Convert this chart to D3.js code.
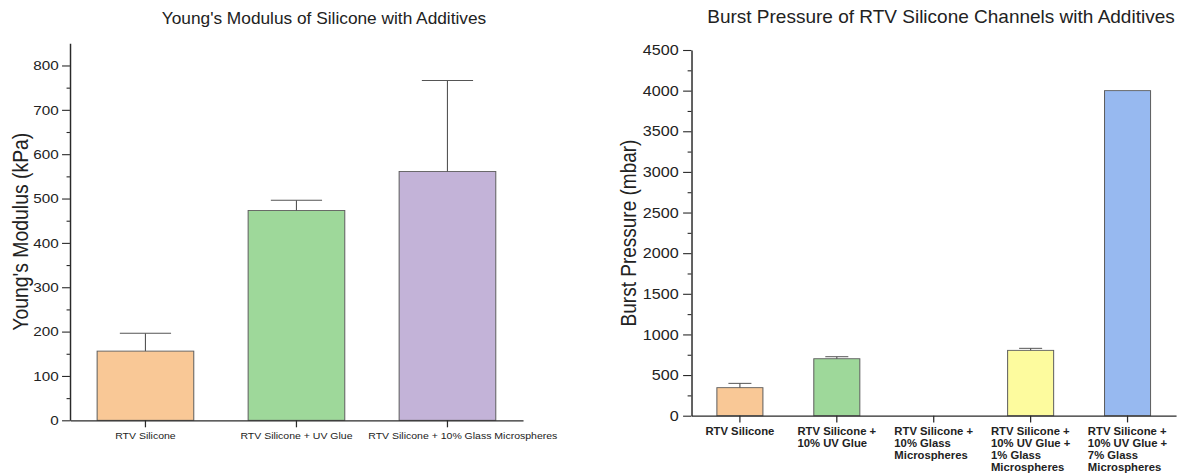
<!DOCTYPE html>
<html>
<head>
<meta charset="utf-8">
<script src="https://cdn.jsdelivr.net/npm/d3@7"></script>
<style>
  html, body { margin: 0; padding: 0; background: #ffffff; }
  svg text { font-family: "Liberation Sans", Arial, sans-serif; fill: #222; }
</style>
</head>
<body>
<div id="chart"></div>
<script>
// ---------------- Data ----------------
const ymCategories = ["RTV Silicone", "RTV Silicone + UV Glue", "RTV Silicone + 10% Glass Microspheres"];
const ymValues = [156, 473, 561];
const ymErrors = [40, 23, 205];
const ymColors = ["#F9C896", "#9ED89A", "#C3B3D8"];
const ymTicks = [0, 100, 200, 300, 400, 500, 600, 700, 800];
const ymMinorTicks = [50, 150, 250, 350, 450, 550, 650, 750];

const bpCategories = ["RTV Silicone", "RTV Silicone + 10% UV Glue", "RTV Silicone + 10% Glass Microspheres",
  "RTV Silicone + 10% UV Glue + 1% Glass Microspheres", "RTV Silicone + 10% UV Glue + 7% Glass Microspheres"];
const bpLabelLines = [
  ["RTV Silicone"],
  ["RTV Silicone +", "10% UV Glue"],
  ["RTV Silicone +", "10% Glass", "Microspheres"],
  ["RTV Silicone +", "10% UV Glue +", "1% Glass", "Microspheres"],
  ["RTV Silicone +", "10% UV Glue +", "7% Glass", "Microspheres"]
];
const bpValues = [345, 701, null, 804, 4000];
const bpErrors = [53, 25, null, 25, null];
const bpColors = ["#F9C896", "#9ED89A", "#D0D0D0", "#FDFB9E", "#97B9F0"];
const bpTicks = [0, 500, 1000, 1500, 2000, 2500, 3000, 3500, 4000, 4500];
const bpMinorTicks = [250, 750, 1250, 1750, 2250, 2750, 3250, 3750, 4250];

// ---------------- Layout ----------------
const W = 1188, H = 475;
const S = 1.13;            // horizontal stretch of the plot bodies
const IW = W / S;

const svg = d3.select("#chart").append("svg").attr("width", W).attr("height", H);
const body = svg.append("svg")
  .attr("x", 0).attr("y", 0).attr("width", W).attr("height", H)
  .attr("viewBox", `0 0 ${IW} ${H}`)
  .attr("preserveAspectRatio", "none");

const axisColor = "#2a2a2a";
const barStroke = "#5e5e5e";
const errColor = "#555555";
const fmt = d3.format("d");

function styleAxis(g) {
  g.selectAll("path.domain").attr("stroke", axisColor).attr("stroke-width", 1.3);
  g.selectAll(".tick line").attr("stroke", axisColor).attr("stroke-width", 1.1);
}

// ============ Left chart: Young's Modulus ============
(function () {
  const x = d3.scaleBand().domain(ymCategories).range([61.9, 462.8]).paddingInner(0.36).paddingOuter(0.18);
  const y = d3.scaleLinear().domain([0, 850]).range([420.3, 43.3]);
  const g = body.append("g");

  g.selectAll("rect.bar").data(ymCategories).join("rect")
    .attr("x", d => x(d)).attr("width", x.bandwidth())
    .attr("y", (d, i) => y(ymValues[i])).attr("height", (d, i) => y(0) - y(ymValues[i]))
    .attr("fill", (d, i) => ymColors[i]).attr("stroke", barStroke).attr("stroke-width", 0.9);

  const cap = x.bandwidth() * 0.53;
  ymCategories.forEach((c, i) => {
    const cx = x(c) + x.bandwidth() / 2;
    g.append("line").attr("x1", cx).attr("x2", cx)
      .attr("y1", y(ymValues[i])).attr("y2", y(ymValues[i] + ymErrors[i]))
      .attr("stroke", errColor).attr("stroke-width", 1);
    g.append("line").attr("x1", cx - cap / 2).attr("x2", cx + cap / 2)
      .attr("y1", y(ymValues[i] + ymErrors[i])).attr("y2", y(ymValues[i] + ymErrors[i]))
      .attr("stroke", errColor).attr("stroke-width", 1);
  });

  const minor = g.append("g").attr("transform", "translate(61.9,0)")
    .call(d3.axisLeft(y).tickValues(ymMinorTicks).tickSize(3).tickFormat(""));
  minor.select("path.domain").remove();
  styleAxis(minor);

  const ya = g.append("g").attr("transform", "translate(61.9,0)")
    .call(d3.axisLeft(y).tickValues(ymTicks).tickFormat(fmt).tickSize(7).tickSizeOuter(0).tickPadding(3));
  ya.selectAll("text").attr("font-size", 13.5).attr("fill", "#222");
  styleAxis(ya);

  const xa = g.append("g").attr("transform", `translate(0,${y(0)})`)
    .call(d3.axisBottom(x).tickSize(7).tickSizeOuter(0).tickFormat(""));
  styleAxis(xa);

  // category labels, nudged right when they would collide with the previous one
  let prevEnd = -Infinity;
  const gap = 14;
  ymCategories.forEach(c => {
    const cx = x(c) + x.bandwidth() / 2;
    const t = g.append("text").attr("y", 439).attr("font-size", 9.3).text(c);
    const w = t.node().getComputedTextLength();
    let left = cx - w / 2;
    if (left < prevEnd + gap) left = prevEnd + gap;
    t.attr("x", left);
    prevEnd = left + w;
  });

  g.append("text").attr("transform", "translate(25,231.7) rotate(-90)")
    .attr("text-anchor", "middle").attr("font-size", 19.4).text("Young's Modulus (kPa)");
})();

// ============ Right chart: Burst Pressure ============
(function () {
  const x = d3.scaleBand().domain(bpCategories).range([611.9, 1040.7]).paddingInner(0.525).paddingOuter(0.2625);
  const y = d3.scaleLinear().domain([0, 4500]).range([415.7, 50]);
  const g = body.append("g");

  const idx = bpCategories.map((c, i) => i).filter(i => bpValues[i] !== null);

  g.selectAll("rect.bar").data(idx).join("rect")
    .attr("x", i => x(bpCategories[i])).attr("width", x.bandwidth())
    .attr("y", i => y(bpValues[i])).attr("height", i => y(0) - y(bpValues[i]))
    .attr("fill", i => bpColors[i]).attr("stroke", barStroke).attr("stroke-width", 0.9);

  const cap = x.bandwidth() * 0.5;
  idx.filter(i => bpErrors[i] !== null).forEach(i => {
    const cx = x(bpCategories[i]) + x.bandwidth() / 2;
    const top = bpValues[i] + bpErrors[i];
    g.append("line").attr("x1", cx).attr("x2", cx)
      .attr("y1", y(bpValues[i])).attr("y2", y(top))
      .attr("stroke", errColor).attr("stroke-width", 1);
    g.append("line").attr("x1", cx - cap / 2).attr("x2", cx + cap / 2)
      .attr("y1", y(top)).attr("y2", y(top))
      .attr("stroke", errColor).attr("stroke-width", 1);
  });

  const minor = g.append("g").attr("transform", "translate(611.9,0)")
    .call(d3.axisLeft(y).tickValues(bpMinorTicks).tickSize(3.4).tickFormat(""));
  minor.select("path.domain").remove();
  styleAxis(minor);

  const ya = g.append("g").attr("transform", "translate(611.9,0)")
    .call(d3.axisLeft(y).tickValues(bpTicks).tickFormat(fmt).tickSize(7.4).tickSizeOuter(0).tickPadding(3.8));
  ya.selectAll("text").attr("font-size", 14.3).attr("fill", "#222");
  styleAxis(ya);

  const xa = g.append("g").attr("transform", `translate(0,${y(0)})`)
    .call(d3.axisBottom(x).tickSize(6.7).tickSizeOuter(0).tickFormat(""));
  styleAxis(xa);

  bpCategories.forEach((c, i) => {
    const cx = x(c) + x.bandwidth() / 2;
    const t = g.append("text").attr("font-size", 10).attr("font-weight", "bold");
    bpLabelLines[i].forEach((ln, k) => {
      t.append("tspan").attr("y", 435.5 + k * 11.7).text(ln);
    });
    let maxW = 0;
    t.selectAll("tspan").each(function () { maxW = Math.max(maxW, this.getComputedTextLength()); });
    t.selectAll("tspan").attr("x", cx - maxW / 2);
  });

  g.append("text").attr("transform", "translate(562.8,233) rotate(-90)")
    .attr("text-anchor", "middle").attr("font-size", 19).text("Burst Pressure (mbar)");
})();

// ---------------- Titles (unstretched) ----------------
svg.append("text").attr("x", 324).attr("y", 24).attr("text-anchor", "middle")
  .attr("font-size", 17.3).text("Young's Modulus of Silicone with Additives");
svg.append("text").attr("x", 941).attr("y", 22.5).attr("text-anchor", "middle")
  .attr("font-size", 19).text("Burst Pressure of RTV Silicone Channels with Additives");
</script>
</body>
</html>
